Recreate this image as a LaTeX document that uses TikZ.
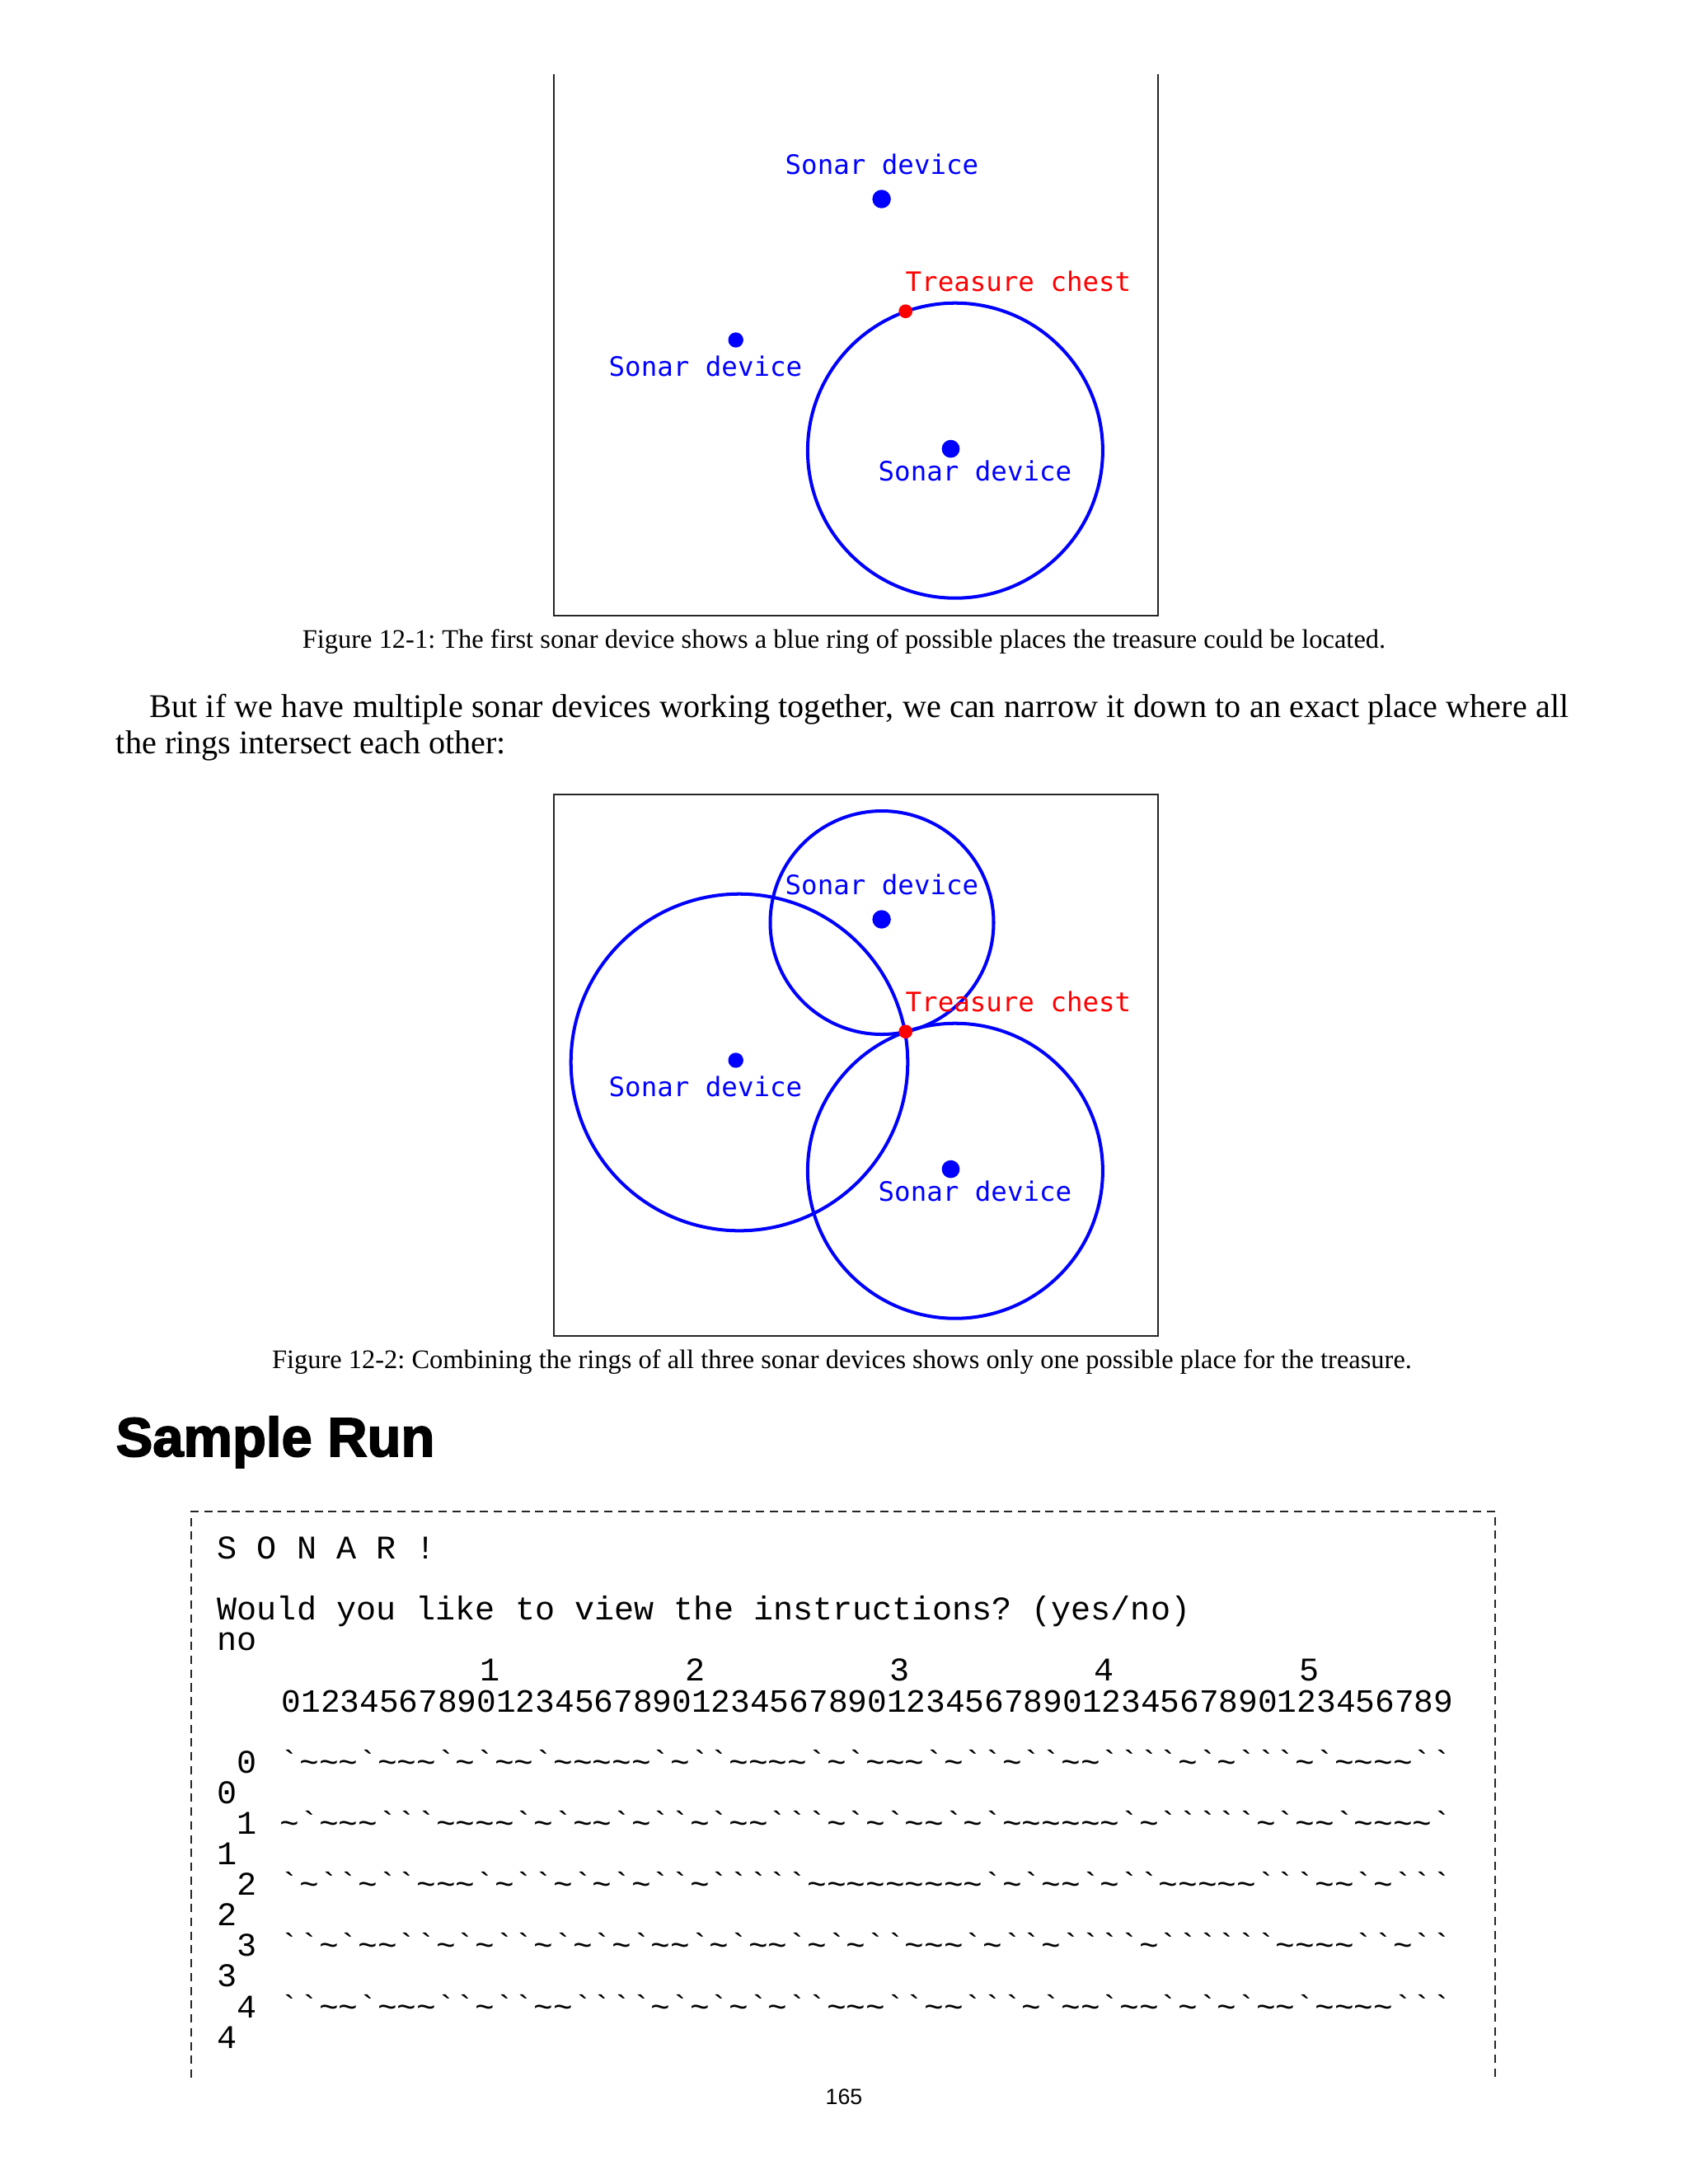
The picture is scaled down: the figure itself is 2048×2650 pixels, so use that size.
\documentclass[tikz,border=0pt]{standalone}
\usepackage{fontspec}
\setmainfont{Liberation Serif}
\newfontfamily\sonarfont{DejaVu Sans Mono}
\newfontfamily\codefont{Liberation Mono}
\newfontfamily\headfont[FakeBold=2.5]{Liberation Sans Bold}
\newfontfamily\foliofont{Liberation Sans}
\usetikzlibrary{positioning}
\definecolor{sonarblue}{HTML}{0000FF}
\definecolor{chestred}{HTML}{FF0000}
\newcommand\wavechars{\def~{\char126\relax}}
\frenchspacing

\begin{document}
\begin{tikzpicture}[
  x=0.29883pt, y=-0.29883pt,
  frame/.style={draw=black!85, line width=0.5pt},
  sonar ring/.style={draw=sonarblue, line width=1.2pt},
  sonar dot/.style={circle, fill=sonarblue, inner sep=0pt, minimum size=6pt},
  chest dot/.style={circle, fill=chestred, inner sep=0pt, minimum size=5pt},
  sonar label/.style={anchor=west, inner sep=0pt, text=sonarblue, font=\sonarfont\fontsize{9.7}{11}\selectfont},
  chest label/.style={sonar label, text=chestred},
  caption/.style={anchor=base, inner sep=0pt, font=\fontsize{9.7}{12}\selectfont},
  code line/.style={anchor=base west, inner sep=0pt, font=\codefont\fontsize{12}{12}\selectfont, execute at begin node=\wavechars},
  code grid/.style={code line, font=\codefont\fontsize{11.8}{12}\selectfont}
]
\useasboundingbox (0,0) rectangle (2048,2650);

\draw[frame] (672,90) -- (672,747) -- (1405,747) -- (1405,90);
\draw[frame] (672,964) rectangle (1405,1621);
\draw[sonar ring] (1070,1119.5) circle [radius=135.5];
\draw[sonar ring] (897,1289) circle [radius=204.3];

\foreach \fig/\dy in {a/-874,b/0} {
  \begin{scope}[shift={(0,\dy)}]
    \draw[sonar ring] (1158.9,1420.7) circle [radius=179];
    \node[sonar dot, minimum size=6.7pt] (\fig-top) at (1069.6,1115.5) {};
    \node[sonar dot, minimum size=5.5pt] (\fig-left) at (892.7,1286.5) {};
    \node[sonar dot, minimum size=6.5pt] (\fig-right) at (1153.5,1418.6) {};
    \node[chest dot] (\fig-chest) at (1098.7,1251.7) {};
    \node[sonar label] (\fig-top-text) at (952,1073) {Sonar device};
    \node[sonar label] (\fig-left-text) at (738,1318.5) {Sonar device};
    \node[sonar label] (\fig-right-text) at (1065,1445) {Sonar device};
    \node[chest label] (\fig-chest-text) at (1098,1215) {Treasure chest};
  \end{scope}
}

\node[caption] (cap-a) at (1024,786) {Figure 12-1: The first sonar device shows a blue ring of possible places the treasure could be located.};
\node[caption] (cap-b) at (1021.5,1660) {Figure 12-2: Combining the rings of all three sonar devices shows only one possible place for the treasure.};

\node[anchor=base west, inner sep=0pt, text width=526.6pt, align=justify, font=\fontsize{12}{13.15}\selectfont] (para) at (140.3,870)
  {\hspace*{12.1pt}But if we have multiple sonar devices working together, we can narrow it down to an exact place where all the rings intersect each other:};

\node[anchor=base west, inner sep=0pt, font=\headfont\fontsize{20}{24}\selectfont] (heading) at (140,1767) {Sample Run};

\draw[frame, dash pattern=on 3pt off 2pt, line width=0.6pt] (232,2521) -- (232,1834) -- (1814,1834) -- (1814,2521);

\node[code line] (title) at (263,1891.5) {S O N A R !};
\node[code line] (ask) at (263,1965.7) {Would you like to view the instructions? (yes/no)};
\node[code line] (answer) at (263,2002.8) {no};
\foreach \t in {1,...,5}
  \node[code line, anchor=base] (tens\t) at ({595+248.3*(\t-1)},2039.9) {\t};
\node[code grid] (ones) at (341,2077) {012345678901234567890123456789012345678901234567890123456789};

\foreach \r/\cells in {
  0/{`~~~`~~~`~`~~`~~~~~`~``~~~~`~`~~~`~``~``~~````~`~```~`~~~~``},
  1/{~`~~~```~~~~`~`~~`~``~`~~```~`~`~~`~`~~~~~~`~`````~`~~`~~~~`},
  2/{`~``~``~~~`~``~`~`~``~`````~~~~~~~~~`~`~~`~``~~~~~```~~`~```},
  3/{``~`~~``~`~``~`~`~`~~`~`~~`~`~``~~~`~``~````~``````~~~~``~``},
  4/{``~~`~~~``~``~~````~`~`~`~``~~~``~~```~`~~`~~`~`~`~~`~~~~```}} {
  \node[code line] (row\r) at (287.1,{1891.5+37.1*(7+2*\r)}) {\r};
  \node[code grid] (cells\r) at (339,{1891.5+37.1*(7+2*\r)}) {\cells};
  \node[code line] (wrap\r) at (263,{1891.5+37.1*(8+2*\r)}) {\r};
}

\node[anchor=base, inner sep=0pt, font=\foliofont\fontsize{8}{10}\selectfont] (folio) at (1024,2553) {165};
\end{tikzpicture}
\end{document}
